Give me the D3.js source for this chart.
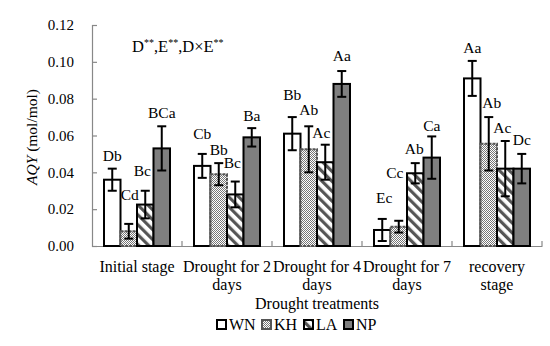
<!DOCTYPE html>
<html><head><meta charset="utf-8">
<script src="https://cdn.jsdelivr.net/npm/d3@7"></script>
<style>body{margin:0;background:#fff}svg{display:block}svg text{font-family:"Liberation Serif",serif !important;fill:#000}</style>
</head><body><div id="c"></div>
<script>
const categories=["Initial stage","Drought for 2 days","Drought for 4 days","Drought for 7 days","recovery stage"];
const series=["WN","KH","LA","NP"];
const WN=[0.036,0.0435,0.061,0.0087,0.091];
const KH=[0.008,0.039,0.0525,0.0105,0.0555];
const LA=[0.0225,0.028,0.0455,0.0395,0.042];
const NP=[0.053,0.059,0.088,0.048,0.042];
const WNerr=[0.006,0.0065,0.009,0.006,0.0095];
const KHerr=[0.004,0.006,0.0125,0.0032,0.0145];
const LAerr=[0.0075,0.007,0.0095,0.0055,0.015];
const NPerr=[0.012,0.005,0.007,0.0115,0.008];
const WNlab=["Db","Cb","Bb","Ec","Aa"];
const KHlab=["Cd","Bb","Ab","Cc","Ab"];
const LAlab=["Bc","Bc","Ac","Ab","Ac"];
const NPlab=["BCa","Ba","Aa","Ca","Dc"];
const yTicks=[0,0.02,0.04,0.06,0.08,0.10,0.12];

// label layout (pixel lift above error cap, horizontal nudge) — layout only
const LIFT=[[8,15,17,16,8],[24,8,11,43,9],[15,14,7,9,8],[8,7,10,5,9]];
const NUDGE=[[0,0,0,2,0],[1,0,0,-4,3],[-3,-3,-4,-1,-3],[0,0,0,0,0]];

const W=550,H=346,m={l:92,r:8,t:25,b:100};
const FF='"Liberation Serif", serif';
const svg=d3.select("#c").append("svg").attr("width",W).attr("height",H).attr("font-family",FF);
const defs=svg.append("defs");
const pk=defs.append("pattern").attr("id","pKH").attr("patternUnits","userSpaceOnUse").attr("width",2).attr("height",2);
pk.append("rect").attr("width",2).attr("height",2).attr("fill","#fff");
pk.append("rect").attr("width",1).attr("height",1).attr("fill","#777");
pk.append("rect").attr("x",1).attr("y",1).attr("width",1).attr("height",1).attr("fill","#777");
const pl=defs.append("pattern").attr("id","pLA").attr("patternUnits","userSpaceOnUse").attr("width",7).attr("height",7).attr("patternTransform","rotate(-45)");
pl.append("rect").attr("width",7).attr("height",7).attr("fill","#fff");
pl.append("rect").attr("width",3.2).attr("height",7).attr("fill","#555");

const x0=d3.scaleBand().domain(categories).range([m.l,W-m.r]).paddingInner(0).paddingOuter(0);
const x1=d3.scaleBand().domain(series).range([12,x0.bandwidth()-12]).padding(0);
const y=d3.scaleLinear().domain([0,0.12]).range([H-m.b,m.t]);

const data=[WN,KH,LA,NP],errs=[WNerr,KHerr,LAerr,NPerr],labs=[WNlab,KHlab,LAlab,NPlab];
const fills=["#fff","url(#pKH)","url(#pLA)","#7f7f7f"];

// axes
const ya=svg.append("g").attr("transform",`translate(${m.l},0)`).call(d3.axisLeft(y).tickValues(yTicks).tickSize(-5).tickPadding(18).tickFormat(d3.format(".2f")));
ya.attr("font-family",FF);
ya.selectAll("line,path").attr("stroke","#888").attr("stroke-width",1.2);
ya.selectAll("text").attr("font-size",15).attr("font-family",FF);
const xa=svg.append("g").attr("transform",`translate(0,${H-m.b})`).call(d3.axisBottom(x0).tickSize(0).tickFormat(""));
xa.select("path").attr("stroke","#888").attr("stroke-width",1.2);
const bounds=categories.map(c=>x0(c)+x0.bandwidth());
svg.append("g").selectAll("line").data(bounds).join("line")
 .attr("x1",d=>d).attr("x2",d=>d).attr("y1",y(0)).attr("y2",y(0)-5).attr("stroke","#888").attr("stroke-width",1.2);

// bars
series.forEach((s,si)=>{
 const g=svg.append("g");
 categories.forEach((c,ci)=>{
  const v=data[si][ci],e=errs[si][ci];
  const bx=x0(c)+x1(s),bw=x1.bandwidth();
  g.append("rect").attr("x",bx).attr("y",y(v)).attr("width",bw).attr("height",y(0)-y(v))
   .attr("fill",fills[si]).attr("stroke",si==1?"#555":"#000").attr("stroke-width",2)
   .attr("stroke-dasharray",si==1?"3,1":null);
  const cx=bx+bw/2;
  g.append("line").attr("x1",cx).attr("x2",cx).attr("y1",y(v+e)).attr("y2",y(v-e)).attr("stroke","#000").attr("stroke-width",2);
  [v+e,v-e].forEach(t=>g.append("line").attr("x1",cx-4.5).attr("x2",cx+4.5).attr("y1",y(t)).attr("y2",y(t)).attr("stroke","#000").attr("stroke-width",2));
  g.append("text").attr("x",cx+NUDGE[si][ci]).attr("y",y(v+e)-LIFT[si][ci]).attr("text-anchor","middle").attr("font-size",15.5).attr("font-family",FF).text(labs[si][ci]);
 });
});

// category labels
categories.forEach(c=>{
 const words=c.split(" ");
 let lines=c==="Initial stage"?[c]:(c==="recovery stage"?["recovery","stage"]:[words.slice(0,3).join(" "),words.slice(3).join(" ")]);
 const t=svg.append("text").attr("text-anchor","middle").attr("font-size",16).attr("font-family",FF);
 lines.forEach((l,i)=>t.append("tspan").attr("x",x0(c)+x0.bandwidth()/2).attr("y",272+i*17.5).text(l));
});

// titles
svg.append("text").attr("x",317).attr("y",309).attr("text-anchor","middle").attr("font-size",16).attr("font-family",FF).text("Drought treatments");
const yt=svg.append("text").attr("transform","translate(37,137) rotate(-90)").attr("text-anchor","middle").attr("font-size",15.5).attr("font-family",FF);
yt.append("tspan").attr("font-style","italic").text("AQY");
yt.append("tspan").text(" (mol/mol)");

// annotation
const an=svg.append("text").attr("x",132).attr("y",52).attr("font-size",16.5).attr("font-family",FF);
an.append("tspan").text("D");an.append("tspan").attr("dy",-6).attr("font-size",10).text("**");
an.append("tspan").attr("dy",6).text(",E");an.append("tspan").attr("dy",-6).attr("font-size",10).text("**");
an.append("tspan").attr("dy",6).text(",D×E");an.append("tspan").attr("dy",-6).attr("font-size",10).text("**");

// legend
const lg=svg.append("g");
let lx=217;
series.forEach((s,si)=>{
 lg.append("rect").attr("x",lx).attr("y",320).attr("width",9).attr("height",9).attr("fill",fills[si])
  .attr("stroke",si==1?"#555":"#000").attr("stroke-width",2);
 lg.append("text").attr("x",lx+12).attr("y",330).attr("font-size",16).attr("font-family",FF).text(s);
 lx+= s==="WN"?45:(s==="KH"?42:40);
});
</script></body></html>
